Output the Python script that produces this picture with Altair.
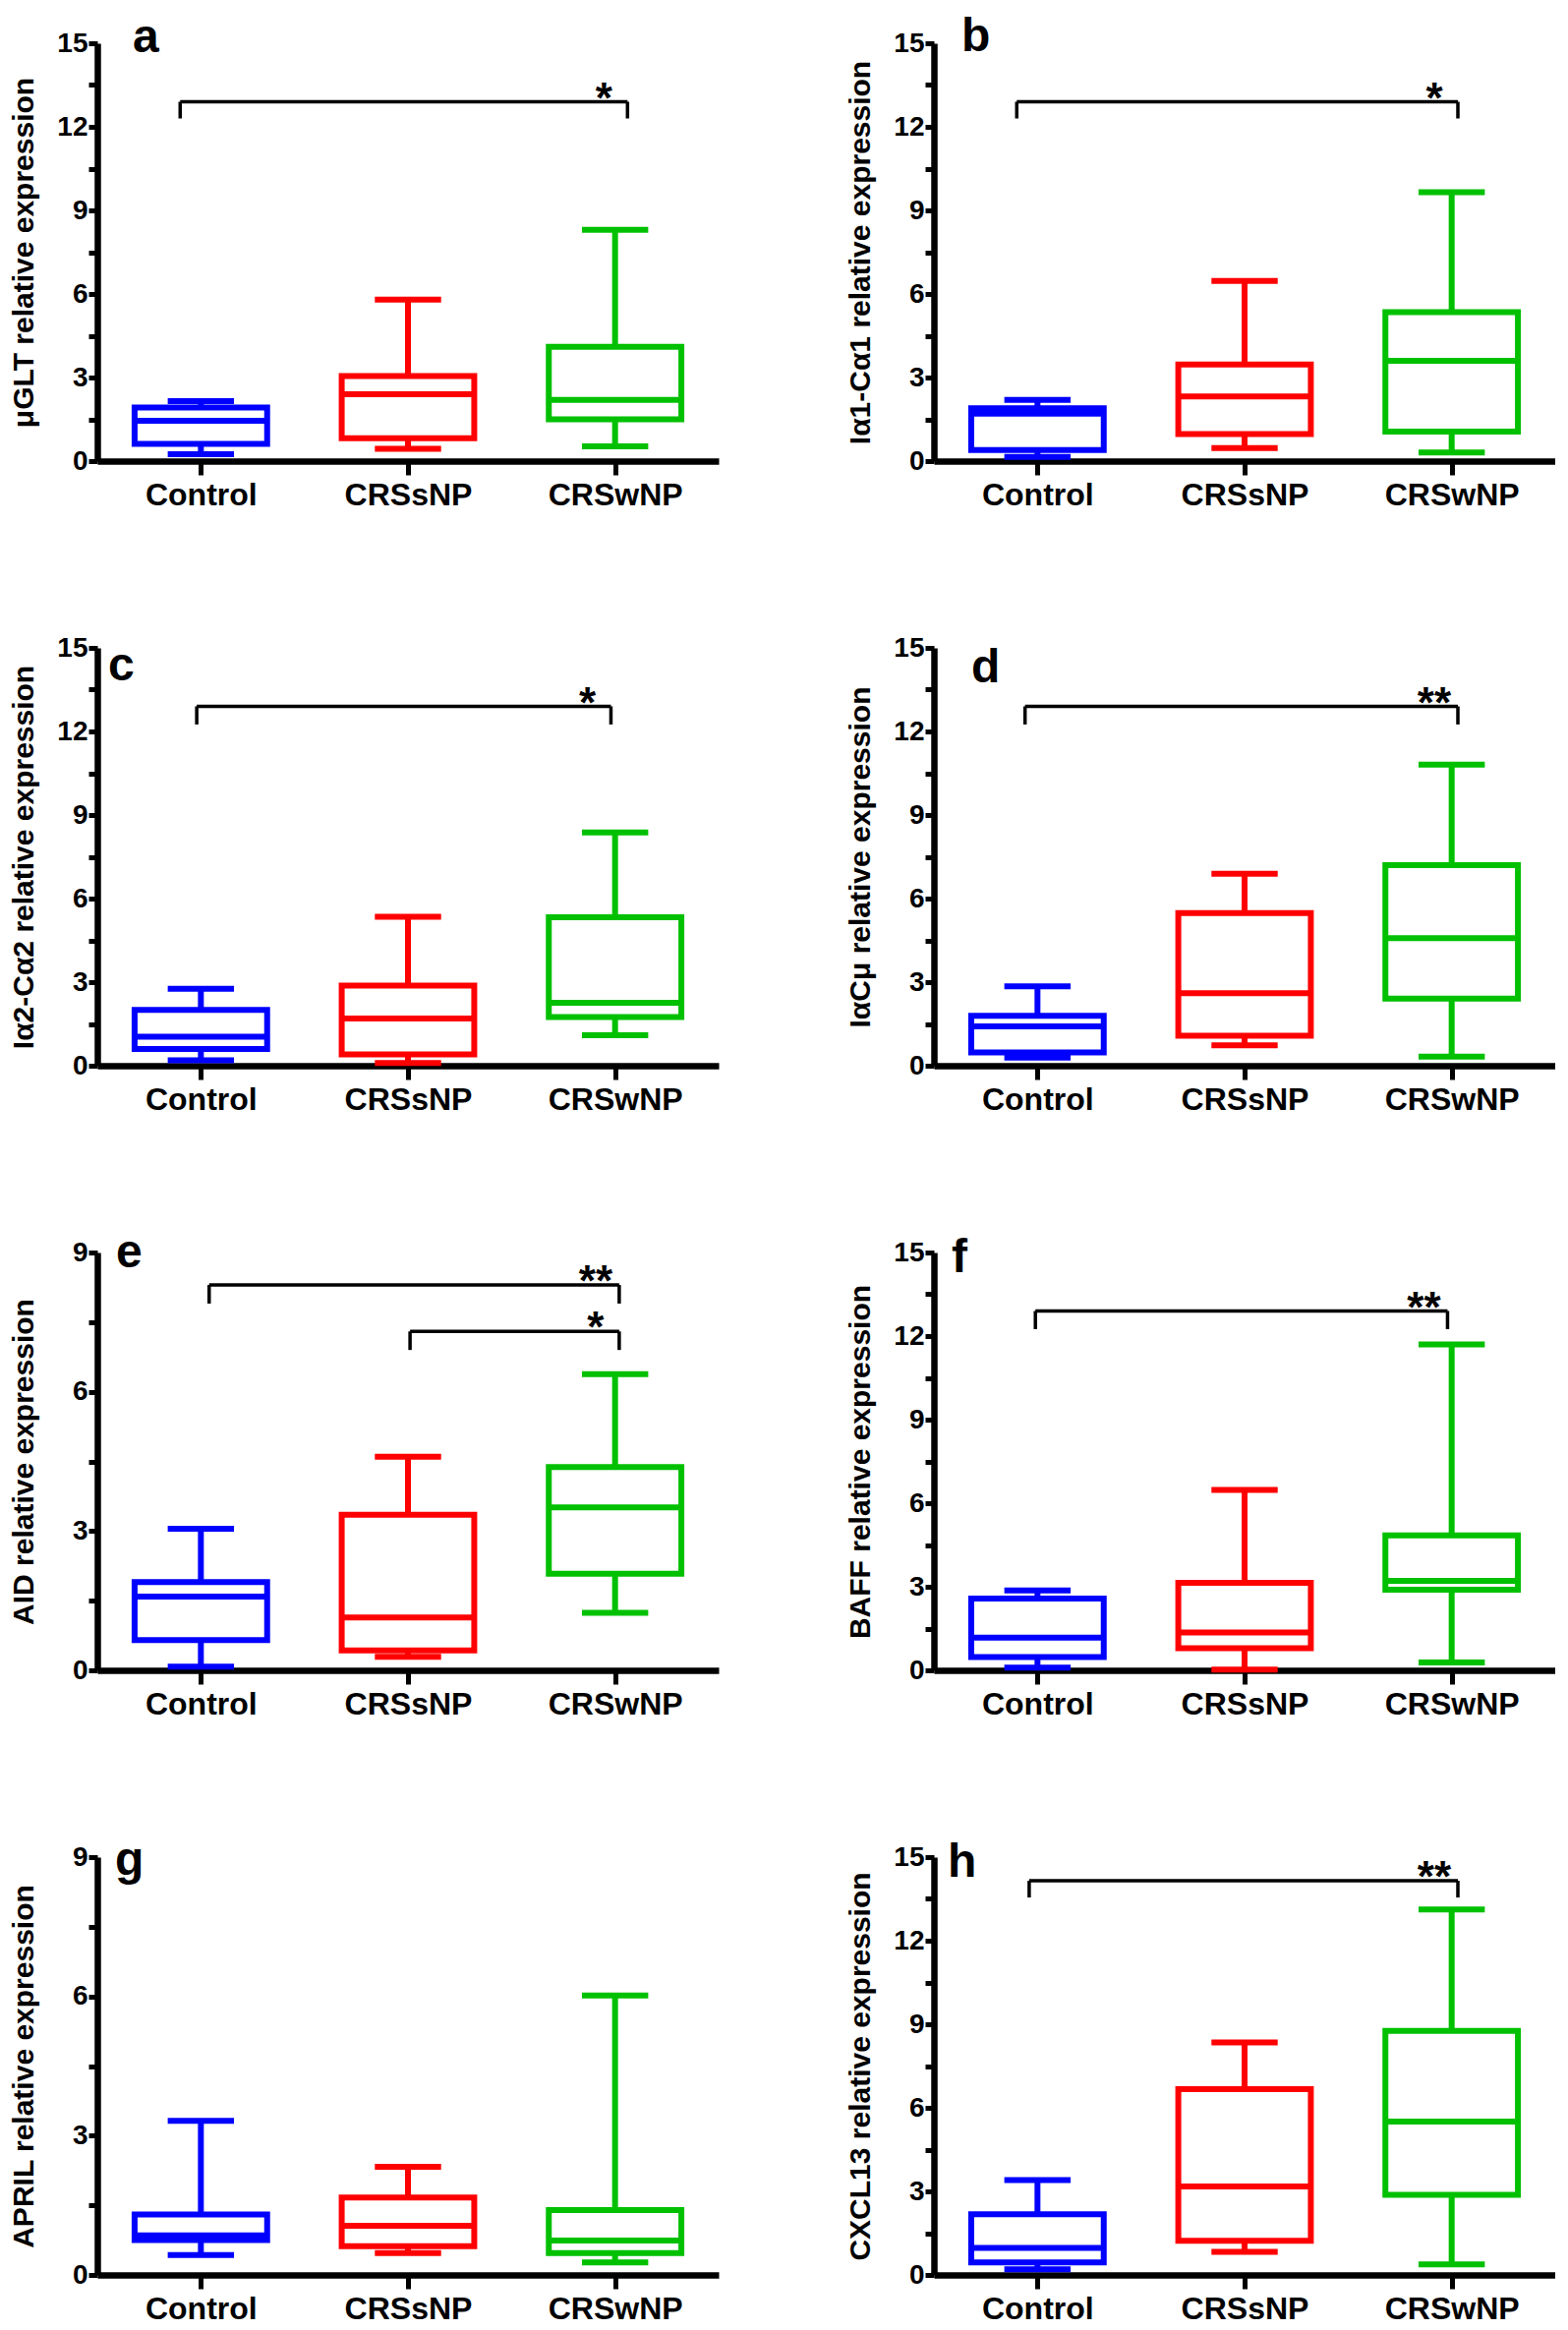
import altair as alt
import pandas as pd

categories = ["Control", "CRSsNP", "CRSwNP"]
group_colors = ["#0000ff", "#ff0000", "#00c000"]

# ---- panel a : μGLT ----
a_min = [0.25, 0.44, 0.53]
a_q1 = [0.62, 0.82, 1.50]
a_med = [1.45, 2.40, 2.20]
a_q3 = [1.92, 3.05, 4.10]
a_max = [2.15, 5.80, 8.30]
# brackets: (start on x scale, end on x scale, level, leg bottom, label)
a_brackets = [(0.40, 2.56, 12.9, 12.3, "*")]

# ---- panel b : Iα1-Cα1 ----
b_min = [0.15, 0.47, 0.31]
b_q1 = [0.40, 0.97, 1.06]
b_med = [1.70, 2.32, 3.60]
b_q3 = [1.90, 3.47, 5.35]
b_max = [2.20, 6.47, 9.65]
b_brackets = [(0.40, 2.53, 12.9, 12.3, "*")]

# ---- panel c : Iα2-Cα2 ----
c_min = [0.19, 0.10, 1.09]
c_q1 = [0.60, 0.41, 1.75]
c_med = [1.04, 1.69, 2.26]
c_q3 = [2.00, 2.88, 5.33]
c_max = [2.76, 5.35, 8.37]
c_brackets = [(0.48, 2.48, 12.9, 12.25, "*")]

# ---- panel d : IαCμ ----
d_min = [0.29, 0.73, 0.33]
d_q1 = [0.48, 1.08, 2.41]
d_med = [1.41, 2.60, 4.58]
d_q3 = [1.79, 5.48, 7.20]
d_max = [2.85, 6.89, 10.81]
d_brackets = [(0.44, 2.53, 12.9, 12.25, "**")]

# ---- panel e : AID ----
e_min = [0.08, 0.29, 1.24]
e_q1 = [0.65, 0.43, 2.08]
e_med = [1.59, 1.14, 3.51]
e_q3 = [1.90, 3.35, 4.38]
e_max = [3.05, 4.60, 6.38]
e_brackets = [(0.54, 2.52, 8.3, 7.9, "**"),
              (1.51, 2.52, 7.3, 6.9, "*")]

# ---- panel f : BAFF ----
f_min = [0.10, 0.03, 0.28]
f_q1 = [0.48, 0.79, 2.89]
f_med = [1.17, 1.36, 3.21]
f_q3 = [2.58, 3.14, 4.84]
f_max = [2.87, 6.48, 11.70]
f_brackets = [(0.49, 2.48, 12.9, 12.25, "**")]

# ---- panel g : APRIL ----
g_min = [0.43, 0.47, 0.27]
g_q1 = [0.75, 0.62, 0.47]
g_med = [0.85, 1.06, 0.74]
g_q3 = [1.30, 1.67, 1.40]
g_max = [3.32, 2.33, 6.02]
g_brackets = []

# ---- panel h : CXCL13 ----
h_min = [0.20, 0.83, 0.38]
h_q1 = [0.45, 1.23, 2.88]
h_med = [0.97, 3.18, 5.51]
h_q3 = [2.18, 6.67, 8.76]
h_max = [3.41, 8.35, 13.12]
h_brackets = [(0.46, 2.53, 14.15, 13.55, "**")]

panels = [
    dict(letter="a", title="\u03bcGLT relative expression", ymax=15,
         stats=(a_min, a_q1, a_med, a_q3, a_max), brackets=a_brackets),
    dict(letter="b", title="I\u03b11-C\u03b11 relative expression", ymax=15,
         stats=(b_min, b_q1, b_med, b_q3, b_max), brackets=b_brackets),
    dict(letter="c", title="I\u03b12-C\u03b12 relative expression", ymax=15,
         stats=(c_min, c_q1, c_med, c_q3, c_max), brackets=c_brackets),
    dict(letter="d", title="I\u03b1C\u03bc relative expression", ymax=15,
         stats=(d_min, d_q1, d_med, d_q3, d_max), brackets=d_brackets),
    dict(letter="e", title="AID relative expression", ymax=9,
         stats=(e_min, e_q1, e_med, e_q3, e_max), brackets=e_brackets),
    dict(letter="f", title="BAFF relative expression", ymax=15,
         stats=(f_min, f_q1, f_med, f_q3, f_max), brackets=f_brackets),
    dict(letter="g", title="APRIL relative expression", ymax=9,
         stats=(g_min, g_q1, g_med, g_q3, g_max), brackets=g_brackets),
    dict(letter="h", title="CXCL13 relative expression", ymax=15,
         stats=(h_min, h_q1, h_med, h_q3, h_max), brackets=h_brackets),
]

# ---- styling ----
FONT = "Liberation Sans, Arial, Helvetica, sans-serif"
W, H = 632, 425
BOX_HALF = 0.32
CAP_HALF = 0.16
LW = 6
letter_pos = {"a": (36, 9), "b": (28, 8), "c": (11, 33), "d": (38, 35),
              "e": (19, 15), "f": (18, 20), "g": (18, 18), "h": (14, 20)}

label_js = "[" + ",".join("'%s'" % c for c in categories) + "][round(datum.value - 0.5)]"


def make_panel(p):
    ymax = p["ymax"]
    mn, q1, md, q3, mx = p["stats"]
    pos = [i + 0.5 for i in range(len(categories))]
    df = pd.DataFrame({"group": categories, "pos": pos, "lo": mn, "q1": q1,
                       "med": md, "q3": q3, "hi": mx})
    df["left"] = df["pos"] - BOX_HALF
    df["right"] = df["pos"] + BOX_HALF
    df["capl"] = df["pos"] - CAP_HALF
    df["capr"] = df["pos"] + CAP_HALF

    xscale = alt.Scale(domain=[0, len(categories)], nice=False, zero=False)
    yscale = alt.Scale(domain=[0, ymax], nice=False)
    xaxis = alt.Axis(values=pos, labelExpr=label_js, grid=False,
                     domainColor="black", domainWidth=6.5, tickColor="black",
                     tickWidth=5, tickSize=14, labelFont=FONT, labelFontSize=32,
                     labelFontWeight="bold", labelColor="black", labelPadding=5,
                     labelFlush=False, labelOverlap=False)
    yvals = [k * 1.5 for k in range(int(round(ymax / 1.5)) + 1)]
    yaxis = alt.Axis(values=yvals, format="~g",
                     labelExpr="datum.value % 3 == 0 ? datum.label : ''",
                     grid=False, domainColor="black", domainWidth=6.5,
                     tickColor="black", tickWidth=5, tickSize=9,
                     labelFont=FONT, labelFontSize=28, labelFontWeight="bold",
                     labelColor="black", labelPadding=1, labelOverlap=False,
                     titleFont=FONT, titleFontSize=30, titleFontWeight="bold",
                     titleColor="black", titleX=-60)

    def X(f):
        return alt.X(f + ":Q", scale=xscale, axis=xaxis, title=None)

    def Y(f):
        return alt.Y(f + ":Q", scale=yscale, axis=yaxis, title=p["title"])

    color = alt.Color("group:N", scale=alt.Scale(domain=categories, range=group_colors), legend=None)
    stroke = alt.Stroke("group:N", scale=alt.Scale(domain=categories, range=group_colors), legend=None)

    base = alt.Chart(df)
    layers = [
        base.mark_rule(strokeWidth=LW).encode(x=X("pos"), y=Y("lo"), y2="q1", color=color),
        base.mark_rule(strokeWidth=LW).encode(x=X("pos"), y=Y("q3"), y2="hi", color=color),
        base.mark_rect(fillOpacity=0, strokeWidth=LW).encode(
            x=X("left"), x2="right", y=Y("q1"), y2="q3", stroke=stroke),
        base.mark_rule(strokeWidth=LW).encode(x=X("left"), x2="right", y=Y("med"), color=color),
        base.mark_rule(strokeWidth=LW).encode(x=X("capl"), x2="capr", y=Y("hi"), color=color),
        base.mark_rule(strokeWidth=LW).encode(x=X("capl"), x2="capr", y=Y("lo"), color=color),
    ]

    if p["brackets"]:
        bdf = pd.DataFrame([{"x1": s, "x2": e, "y": yv, "ylo": yl, "label": lab}
                            for s, e, yv, yl, lab in p["brackets"]])
        legs = pd.DataFrame([{"x": xx, "y": r["y"], "ylo": r["ylo"]}
                             for _, r in bdf.iterrows() for xx in (r["x1"], r["x2"])])
        bb = alt.Chart(bdf)
        layers += [
            bb.mark_rule(strokeWidth=3.5, color="black").encode(x=X("x1"), x2="x2", y=Y("y")),
            alt.Chart(legs).mark_rule(strokeWidth=3.5, color="black").encode(
                x=X("x"), y=Y("ylo"), y2="y"),
            bb.mark_text(font=FONT, fontSize=44, fontWeight="bold", color="black",
                         align="center", baseline="alphabetic", dx=-24, dy=11).encode(
                x=X("x2"), y=Y("y"), text="label:N"),
        ]

    lx, ly = letter_pos[p["letter"]]
    layers.append(
        alt.Chart(pd.DataFrame({"t": [p["letter"]]})).mark_text(
            font=FONT, fontSize=48, fontWeight="bold", color="black",
            align="left", baseline="alphabetic").encode(
            x=alt.value(lx), y=alt.value(ly), text="t:N")
    )
    return alt.layer(*layers).properties(width=W, height=H)


charts = [make_panel(p) for p in panels]

chart = alt.concat(
    *charts, columns=2, spacing={"row": 190, "column": 219}, bounds="flush"
).properties(
    padding={"left": 0, "top": 6, "right": 0, "bottom": 0}
).configure_view(stroke=None)

chart.save("out.html", embed_options={"renderer": "svg", "actions": False})
